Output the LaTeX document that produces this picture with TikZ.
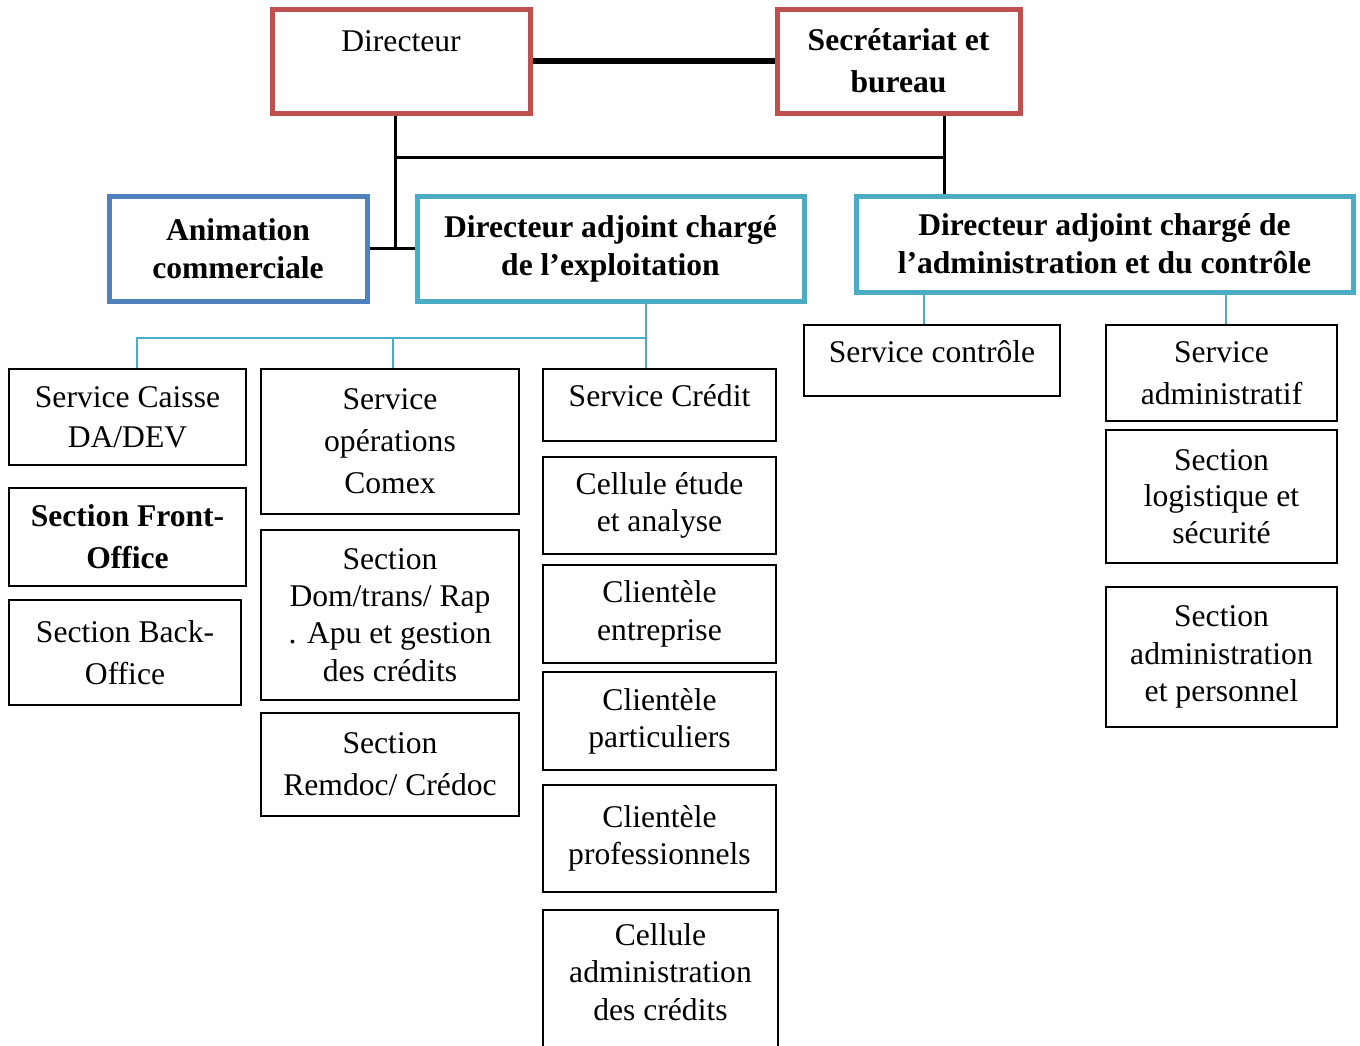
\documentclass[tikz,border=0pt]{standalone}
\usepackage{fontspec}
\setmainfont{Liberation Serif}
\usetikzlibrary{positioning}
\definecolor{orgred}{RGB}{192,80,77}
\definecolor{orgblue}{RGB}{79,129,189}
\definecolor{orgcyan}{RGB}{75,172,198}

\begin{document}
\begin{tikzpicture}[x=0.5pt,y=-0.5pt,
  unit/.style={draw=black,line width=1pt,fill=white,align=center,inner sep=2pt,
               font=\fontsize{15.8}{20}\selectfont},
  chief/.style={unit,draw=orgred,line width=2.5pt},
  deputy/.style={unit,draw=orgcyan,line width=2.5pt,
                 font=\fontsize{15.8}{19}\selectfont\bfseries},
  link/.style={black,line width=1.5pt},
  sub/.style={orgcyan,line width=1pt}
]
  \useasboundingbox (0,0) rectangle (1360,1045);
  \clip (0,0) rectangle (1360,1045);

  \node[chief,minimum width=129pt,minimum height=52pt] (dir) at (401,61) {Directeur\\ \mbox{}};
  \node[chief,minimum width=121.5pt,minimum height=52pt,font=\fontsize{15.8}{21}\selectfont\bfseries]
        (sec) at (898.5,61) {Secrétariat et\\ bureau};
  \node[deputy,draw=orgblue,minimum width=129pt,minimum height=52.5pt] (anim) at (238,248.5) {Animation\\ commerciale};
  \node[deputy,minimum width=193.5pt,minimum height=52.5pt] (dae) at (610.5,248.5) {Directeur adjoint chargé\\ de l’exploitation};
  \node[deputy,minimum width=248.5pt,minimum height=48pt,text depth=0pt] (daa) at (1104.5,244) {Directeur adjoint chargé de\\ l’administration et du contrôle};

  \node[unit,minimum width=118.5pt,minimum height=48pt] (caisse) at (127.5,417) {Service Caisse\\ DA/DEV};
  \node[unit,minimum width=118.5pt,minimum height=49pt,font=\fontsize{15.8}{21}\selectfont\bfseries]
        (front) at (127.5,537) {Section Front-\\ Office};
  \node[unit,minimum width=116pt,minimum height=52.5pt,font=\fontsize{15.8}{21}\selectfont]
        (back) at (125,652.5) {Section Back-\\ Office};

  \node[unit,minimum width=129pt,minimum height=72.5pt,font=\fontsize{15.8}{21}\selectfont]
        (comex) at (390,441.5) {Service\\ opérations\\ Comex};
  \node[unit,minimum width=129pt,minimum height=85pt,font=\fontsize{15.8}{18.6}\selectfont]
        (dom) at (390,615) {Section\\ Dom/trans/ Rap\\ . Apu et gestion\\ des crédits};
  \node[unit,minimum width=129pt,minimum height=51.5pt,font=\fontsize{15.8}{21}\selectfont]
        (remdoc) at (390,764.5) {Section\\ Remdoc/ Crédoc};

  \node[unit,minimum width=116.5pt,minimum height=36pt,text depth=9pt] (credit) at (659.5,405) {Service Crédit};
  \node[unit,minimum width=116.5pt,minimum height=48.5pt,font=\fontsize{15.8}{18.8}\selectfont]
        (etude) at (659.5,505.5) {Cellule étude\\ et analyse};
  \node[unit,minimum width=116.5pt,minimum height=49pt,font=\fontsize{15.8}{19}\selectfont]
        (entr) at (659.5,614) {Clientèle\\ entreprise};
  \node[unit,minimum width=116.5pt,minimum height=49pt,font=\fontsize{15.8}{18.6}\selectfont]
        (part) at (659.5,721) {Clientèle\\ particuliers};
  \node[unit,minimum width=116.5pt,minimum height=53.5pt,font=\fontsize{15.8}{18.6}\selectfont]
        (prof) at (659.5,838.5) {Clientèle\\ professionnels};
  \node[unit,minimum width=117.5pt,minimum height=70pt,text depth=8pt,font=\fontsize{15.8}{18.6}\selectfont]
        (cadm) at (660.5,980) {Cellule\\ administration\\ des crédits};

  \node[unit,minimum width=128pt,minimum height=35.5pt,text depth=9pt] (ctrl) at (932,360.5) {Service contrôle};
  \node[unit,minimum width=115.5pt,minimum height=48pt,font=\fontsize{15.8}{21}\selectfont]
        (sadm) at (1221.5,373) {Service\\ administratif};
  \node[unit,minimum width=115.5pt,minimum height=66.5pt,font=\fontsize{15.8}{18.4}\selectfont]
        (logi) at (1221.5,496.5) {Section\\ logistique et\\ sécurité};
  \node[unit,minimum width=115.5pt,minimum height=70pt,font=\fontsize{15.8}{18.6}\selectfont]
        (pers) at (1221.5,657) {Section\\ administration\\ et personnel};

  \coordinate (j1) at (395,248.5);
  \coordinate (j2) at (395,157);
  \coordinate (k1) at (944,157);
  \draw[link,line width=3pt] (dir) -- (sec);
  \draw[link] (dir.south -| j1) -- (j1);
  \draw[link] (anim) -- (dae);
  \draw[link] (j2) -- (k1);
  \draw[link] (sec.south -| k1) -- (daa.north -| k1);

  \coordinate (b1) at (646,338);
  \coordinate (c1) at (137,338);
  \coordinate (c2) at (393,338);
  \coordinate (d1) at (924,300);
  \coordinate (d2) at (1226,300);
  \draw[sub] (dae.south -| b1) -- (b1) -- (c1) -- (c1 |- caisse.north);
  \draw[sub] (c2) -- (c2 |- comex.north);
  \draw[sub] (b1) -- (b1 |- credit.north);
  \draw[sub] (daa.south -| d1) -- (d1 |- ctrl.north);
  \draw[sub] (daa.south -| d2) -- (d2 |- sadm.north);
\end{tikzpicture}
\end{document}
